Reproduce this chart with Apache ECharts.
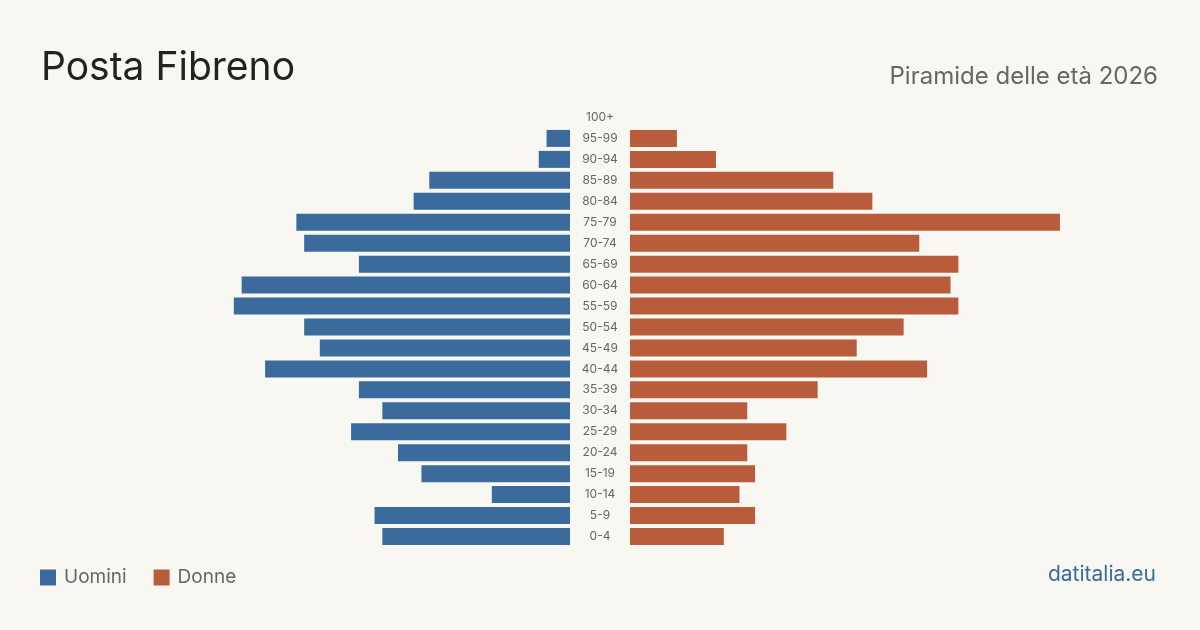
<!DOCTYPE html>
<html>
<head>
<meta charset="utf-8">
<script src="https://cdn.jsdelivr.net/npm/echarts@6/dist/echarts.min.js"></script>
<style>
html,body{margin:0;padding:0;background:#f9f7f2;}
#c{width:1200px;height:630px;}
</style>
</head>
<body>
<div id="c"></div>
<script>
const ageGroups = ['0-4','5-9','10-14','15-19','20-24','25-29','30-34','35-39','40-44','45-49','50-54','55-59','60-64','65-69','70-74','75-79','80-84','85-89','90-94','95-99','100+'];
const men   = [24,25,10,19,22,28,24,27,39,32,34,43,42,27,34,35,20,18,4,3,0];
const women = [12,16,14,16,15,20,15,24,38,29,35,42,41,42,37,55,31,26,11,6,0];
const axisMax = 55;

const FONT = 'Inter, "Noto Sans", sans-serif';
const chart = echarts.init(document.getElementById('c'));
chart.setOption({
  backgroundColor: '#f9f7f2',
  animation: false,
  textStyle: {fontFamily: FONT},
  title: [
    {text: 'Posta Fibreno', left: 41, top: 49, padding: 0, textStyle: {fontSize: 39, fontWeight: 'normal', color: '#222', fontFamily: FONT}},
    {text: 'Piramide delle età 2026', right: 42, top: 65, padding: 0, textStyle: {fontSize: 24, fontWeight: 'normal', color: '#666', fontFamily: FONT}}
  ],
  legend: {
    left: 40, top: 568, padding: 0, itemWidth: 16, itemHeight: 16, itemGap: 27, icon: 'rect',
    data: ['Uomini','Donne'],
    textStyle: {fontSize: 19, color: '#666', fontFamily: FONT, padding: [0,0,0,3]}
  },
  graphic: [
    {type: 'text', right: 44, top: 564, style: {text: 'datitalia.eu', fontSize: 21, fill: '#3a6b9c', fontFamily: FONT}}
  ],
  grid: [
    {left: 140, right: 630, top: 107, bottom: 83},
    {left: 630, right: 140, top: 107, bottom: 83}
  ],
  xAxis: [
    {gridIndex: 0, type: 'value', min: 0, max: axisMax, inverse: true, show: false},
    {gridIndex: 1, type: 'value', min: 0, max: axisMax, show: false}
  ],
  yAxis: [
    {gridIndex: 0, type: 'category', data: ageGroups, show: false},
    {gridIndex: 1, type: 'category', data: ageGroups, position: 'left',
     axisLine: {show: false}, axisTick: {show: false}, splitLine: {show: false},
     axisLabel: {margin: 30, align: 'center', fontSize: 12, color: '#666', fontFamily: FONT}}
  ],
  series: [
    {name: 'Uomini', type: 'bar', xAxisIndex: 0, yAxisIndex: 0, data: men, barWidth: 17, itemStyle: {color: '#3a6b9c'}},
    {name: 'Donne', type: 'bar', xAxisIndex: 1, yAxisIndex: 1, data: women, barWidth: 17, itemStyle: {color: '#b85c3c'}}
  ]
});
</script>
</body>
</html>
